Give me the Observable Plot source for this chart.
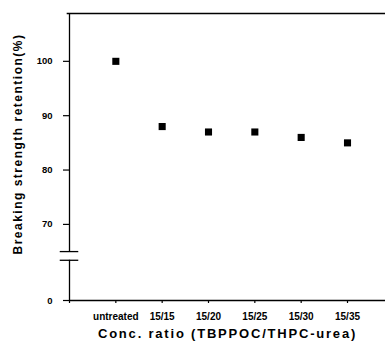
<!DOCTYPE html>
<html><head><meta charset="utf-8">
<script src="https://cdn.jsdelivr.net/npm/d3@7"></script>
<script src="https://cdn.jsdelivr.net/npm/@observablehq/plot@0.6"></script>
<style>
body{margin:0;background:#fff}
#chart svg{font-family:"Liberation Sans",Arial,sans-serif;font-weight:bold;}
</style>
</head><body><div id="chart"></div>
<script>
const categories = ["untreated","15/15","15/20","15/25","15/30","15/35"];
const retention = [100,88,87,87,86,85];
const yTickValues = [0,70,80,90,100];
const xTitle = "Conc. ratio (TBPPOC/THPC-urea)";
const yTitle = "Breaking strength retention(%)";
// broken axis: the "0" tick is drawn just below a break in the y axis
const yZeroAt = 56;
const breakLow = 63.4, breakHigh = 65.0;
const yTop = 108.8;

const data = categories.map((c, i) => ({i, c, v: retention[i]}));
const yTickPos = yTickValues.map(v => v === 0 ? yZeroAt : v);

const plot = Plot.plot({
  width: 385, height: 352,
  marginLeft: 69, marginRight: 0, marginTop: 13, marginBottom: 52,
  style: {fontFamily: '"Liberation Sans", Arial, sans-serif', fontWeight: "bold", color: "#000", background: "#fff"},
  x: {type: "linear", domain: [-1, 5.82]},
  y: {type: "linear", domain: [yZeroAt, yTop]},
  marks: [
    Plot.axisY({ticks: yTickPos, tickFormat: d => d === yZeroAt ? "0" : String(d), tickSize: 6, tickPadding: 11, fontSize: 9.5, label: null, stroke: "#000", strokeWidth: 1.2}),
    Plot.axisX({ticks: d3.range(-1, 6), tickFormat: i => categories[i] ?? "", tickSize: 3, tickPadding: 9, fontSize: 10, label: null, strokeWidth: 1.2}),
    Plot.ruleX([-1], {y1: yZeroAt, y2: breakLow, stroke: "#000", strokeWidth: 1.3}),
    Plot.ruleX([-1], {y1: breakHigh, y2: yTop, stroke: "#000", strokeWidth: 1.3}),
    Plot.ruleY([breakLow, breakHigh], {x1: -1.2, x2: -0.8, stroke: "#000", strokeWidth: 1.3}),
    Plot.ruleY([yTop], {x1: -1.05, x2: 5.82, stroke: "#000", strokeWidth: 1.3}),
    Plot.ruleY([yZeroAt], {x1: -1, x2: 5.82, stroke: "#000", strokeWidth: 1.3}),
    Plot.dot(data, {x: "i", y: "v", symbol: "square", r: 4, fill: "#000", stroke: "none"}),
    Plot.text([xTitle], {frameAnchor: "bottom", dy: 37, fontSize: 13, fontWeight: "bold", fill: "#000"}),
    Plot.text([yTitle], {frameAnchor: "left", textAnchor: "middle", dx: -51, dy: -13, rotate: -90, fontSize: 12, fontWeight: "bold", fill: "#000"})
  ]
});
d3.select(plot).selectAll("text").each(function() {
  const t = this.textContent;
  if (t === xTitle) this.style.letterSpacing = "1.8px";
  else if (t === yTitle) this.style.letterSpacing = "1.5px";
});
document.getElementById("chart").appendChild(plot);
</script>
</body></html>
